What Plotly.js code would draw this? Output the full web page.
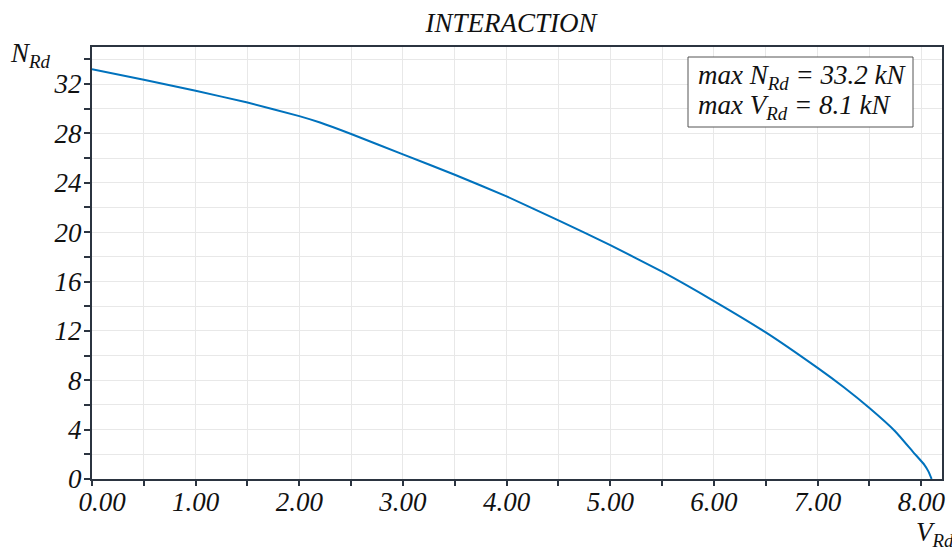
<!DOCTYPE html>
<html>
<head>
<meta charset="utf-8">
<script src="https://cdn.plot.ly/plotly-3.0.1.min.js"></script>
<style>html,body{margin:0;padding:0;background:#fff;}#chart{width:952px;height:547px;}</style>
</head>
<body>
<div id="chart"></div>
<script>
// Data
const V_Rd = [0, 0.5, 1.0, 1.5, 2.0, 2.2, 2.5, 3.0, 3.5, 4.0, 4.5, 5.0, 5.5, 6.0, 6.5, 7.0, 7.25, 7.5, 7.75, 7.92, 8.03, 8.07, 8.1];
const N_Rd = [33.2, 32.35, 31.45, 30.5, 29.4, 28.88, 27.95, 26.3, 24.65, 22.9, 20.95, 18.95, 16.8, 14.42, 11.88, 9.0, 7.45, 5.75, 3.85, 2.2, 1.15, 0.6, 0];

const xTickVals = [0,0.5,1,1.5,2,2.5,3,3.5,4,4.5,5,5.5,6,6.5,7,7.5,8];
const xTickText = ["\u00a0\u00a0\u00a00.00","","1.00","","2.00","","3.00","","4.00","","5.00","","6.00","","7.00","","8.00"];
const yTickVals = [0,2,4,6,8,10,12,14,16,18,20,22,24,26,28,30,32,34];
const yTickText = ["0","","4","","8","","12","","16","","20","","24","","28","","32",""];

const chartTitle = "INTERACTION";
const infoLine1 = "max N<sub>Rd</sub> = 33.2 kN";
const infoLine2 = "max V<sub>Rd</sub> = 8.1 kN";

const serif = "Liberation Serif";
const axisColor = "#2b3440";
const FS = 27;

// pixel -> paper helpers (plot area: x 92..942, y 47..479)
const px = p => (p - 92) / 850;
const py = p => (479 - p) / 432;

const trace = {
  x: V_Rd, y: N_Rd, type: "scatter", mode: "lines",
  line: {color: "#0072BD", width: 2, shape: "spline", smoothing: 0.4},
  hoverinfo: "none"
};

const layout = {
  width: 952, height: 547,
  margin: {l: 92, r: 10, t: 47, b: 68},
  paper_bgcolor: "#fff", plot_bgcolor: "#fff",
  showlegend: false,
  font: {family: serif, style: "italic", color: "#111"},
  title: {
    text: chartTitle,
    font: {family: serif, style: "italic", size: FS, color: "#111"},
    x: px(511), xref: "paper", y: 1 - 23/547, yref: "container", yanchor: "middle"
  },
  xaxis: {
    range: [0, 8.2], tickmode: "array", tickvals: xTickVals, ticktext: xTickText,
    ticks: "outside", ticklen: 5, tickwidth: 2, tickcolor: axisColor,
    showline: true, linewidth: 2, linecolor: axisColor, mirror: true,
    showgrid: true, gridcolor: "#e8e8e8", gridwidth: 1, zeroline: false,
    ticklabelstandoff: -7,
    tickfont: {family: serif, style: "italic", size: FS, color: "#111"}
  },
  yaxis: {
    range: [0, 35], tickmode: "array", tickvals: yTickVals, ticktext: yTickText,
    ticks: "outside", ticklen: 6, tickwidth: 2, tickcolor: axisColor,
    showline: true, linewidth: 2, linecolor: axisColor, mirror: true,
    showgrid: true, gridcolor: "#e8e8e8", gridwidth: 1, zeroline: false,
    ticklabelstandoff: -3,
    tickfont: {family: serif, style: "italic", size: FS, color: "#111"}
  },
  shapes: [
    {type: "rect", xref: "paper", yref: "paper",
     x0: px(688), x1: px(913), y0: py(127), y1: py(57),
     fillcolor: "#fff", line: {color: "#555", width: 1}, layer: "above"}
  ],
  annotations: [
    {
      text: "N<sub>Rd</sub>", xref: "paper", yref: "paper",
      x: px(8), y: py(36), xanchor: "left", yanchor: "top",
      showarrow: false, font: {family: serif, style: "italic", size: FS, color: "#111"}
    },
    {
      text: "V<sub>Rd</sub>", xref: "paper", yref: "paper",
      x: px(914), y: py(515), xanchor: "left", yanchor: "top",
      showarrow: false, font: {family: serif, style: "italic", size: FS, color: "#111"}
    },
    {
      text: infoLine1, xref: "paper", yref: "paper",
      x: px(696), y: py(77), xanchor: "left", yanchor: "middle",
      showarrow: false, font: {family: serif, style: "italic", size: FS, color: "#111"}
    },
    {
      text: infoLine2, xref: "paper", yref: "paper",
      x: px(696), y: py(107), xanchor: "left", yanchor: "middle",
      showarrow: false, font: {family: serif, style: "italic", size: FS, color: "#111"}
    }
  ]
};

Plotly.newPlot("chart", [trace], layout, {staticPlot: true, displayModeBar: false});
</script>
</body>
</html>
